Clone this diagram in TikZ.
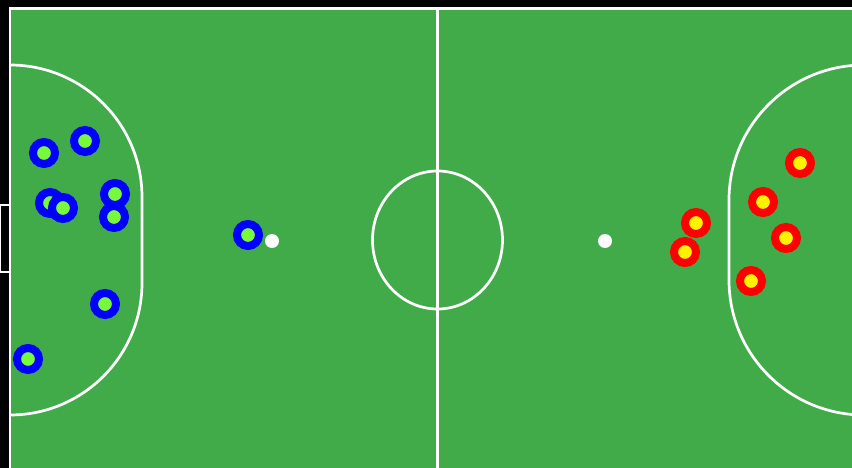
\documentclass[tikz,border=0pt]{standalone}
\usepackage{xcolor}
\usepackage{tikz}
\usetikzlibrary{positioning}

\definecolor{pitch}{RGB}{65,171,74}
\definecolor{lime}{RGB}{120,250,60}

\begin{document}
\begin{tikzpicture}[
    x=1pt,y=-1pt,
    line/.style={draw=white,line width=2.7pt},
    blueplr/.style={circle,draw=blue,line width=8pt,fill=lime,minimum size=22pt,inner sep=0pt},
    redplr/.style={circle,draw=red,line width=8pt,fill=yellow,minimum size=22pt,inner sep=0pt},
    ball/.style={circle,fill=white,minimum size=14pt,inner sep=0pt}
  ]
  \useasboundingbox[fill=black] (0,0) rectangle (852,468);
  \clip (0,0) rectangle (852,468);

  % pitch and lines
  \fill[pitch] (10,8) rectangle (852,468);
  \draw[line,line width=2.2pt] (10,8.5) rectangle (864,472);
  \draw[line] (437.5,8) -- (437.5,468);
  \draw[line] (437.5,240) ellipse[x radius=65,y radius=69];
  \draw[line] (10,65) arc[start angle=90,end angle=0,radius=132pt]
        -- (142,283) arc[start angle=0,end angle=-90,radius=132pt];
  \draw[line] (864,65) arc[start angle=90,end angle=180,radius=135pt]
        -- (729,280) arc[start angle=180,end angle=270,radius=135pt];
  \draw[line,fill=black,line width=1.8pt] (0.5,205) rectangle (10,272);

  % blue team
  \node[blueplr] (b1) at (44,153) {};
  \node[blueplr] (b2) at (85,141) {};
  \node[blueplr] (b3) at (50,203) {};
  \node[blueplr] (b4) at (63,208) {};
  \node[blueplr] (b5) at (115,194) {};
  \node[blueplr] (b6) at (114,217) {};
  \node[blueplr] (b7) at (105,304) {};
  \node[blueplr] (b8) at (28,359) {};
  \node[blueplr] (b9) at (248,235) {};

  % red team
  \node[redplr] (r1) at (800,163) {};
  \node[redplr] (r2) at (763,202) {};
  \node[redplr] (r3) at (696,223) {};
  \node[redplr] (r4) at (685,252) {};
  \node[redplr] (r5) at (786,238) {};
  \node[redplr] (r6) at (751,281) {};

  % balls
  \node[ball] (ball1) at (272,241) {};
  \node[ball] (ball2) at (605,241) {};
\end{tikzpicture}
\end{document}
